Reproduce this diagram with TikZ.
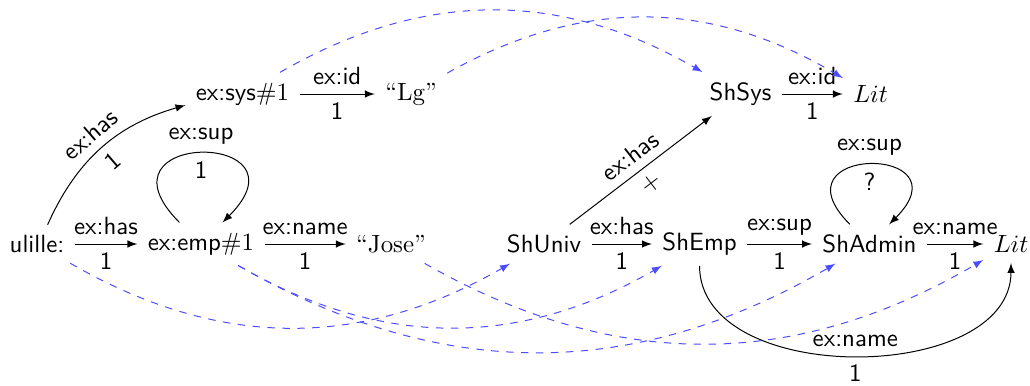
\documentclass[tikz,border=0pt]{standalone}
\usepackage{amsmath}
\usepackage{tikz}
\tikzset{every node/.style={font=\sffamily}, term/.style={inner sep=4pt}, lit/.style={term, font=\rmfamily}, typing/.style={->, dashed, blue!70}}

\begin{document}
\begin{tikzpicture}[>=latex]
    \useasboundingbox (0,0) rectangle (14.537,5.434);
    \def\rowa{4.107}
    \def\rowb{1.990}
    \node [term] (sys) at (3.423,\rowa) {ex:sys$\#1$};
    \node [lit] (lg) at (5.801,\rowa) {“Lg”};
    \node [term] (ulille) at (0.522,\rowb) {ulille:};
    \node [term] (emp) at (2.837,\rowb) {ex:emp$\#1$};
    \node [lit] (jose) at (5.519,\rowb) {“Jose”};
    \node [term] (shsys) at (10.451,\rowa) {ShSys};
    \node [term] (litt) at (12.286,\rowa) {$Lit$};
    \node [term] (shuniv) at (7.678,\rowb) {ShUniv};
    \node [term] (shemp) at (9.873,\rowb) {ShEmp};
    \node [term] (shadmin) at (12.272,\rowb) {ShAdmin};
    \node [term] (litb) at (14.269,\rowb) {$Lit$};
    \draw [->] (ulille) -- node [above] {ex:has} node [below] {1} (emp);
    \draw [->] (emp) -- node [above] {ex:name} node [below] {1} (jose);
    \draw [->] (sys) -- node [above] {ex:id} node [below] {1} (lg);
    \draw [->] (ulille) to[bend left=25] node [above, sloped] {ex:has} node [below, sloped] {1} (sys);
    \draw [->] (emp) to[loop, out=135, in=45, min distance=1.85cm] node [above] {ex:sup} node [below] {1} (emp);
    \draw [->] (shuniv) -- node [above, sloped] {ex:has} node [below, sloped] {+} (shsys);
    \draw [->] (shsys) -- node [above] {ex:id} node [below] {1} (litt);
    \draw [->] (shuniv) -- node [above] {ex:has} node [below] {1} (shemp);
    \draw [->] (shemp) -- node [above] {ex:sup} node [below] {1} (shadmin);
    \draw [->] (shadmin) -- node [above] {ex:name} node [below] {1} (litb);
    \draw [->] (shadmin) to[loop, out=135, in=45, min distance=1.6cm] node [above] {ex:sup} node [below] {?} (shadmin);
    \draw [->] (shemp) to[out=-90, in=-90] node [above] {ex:name} node [below] {1} (litb);
    % typing
    \draw [typing] (sys) to[bend left] (shsys);
    \draw [typing] (lg) to[bend left] (litt);
    \draw [typing] (ulille) to[bend right] (shuniv);
    \draw [typing] (emp) to[bend right] (shemp);
    \draw [typing] (emp) to[bend right] (shadmin);
    \draw [typing] (jose) to[bend right] (litb);
  \end{tikzpicture}
\end{document}
